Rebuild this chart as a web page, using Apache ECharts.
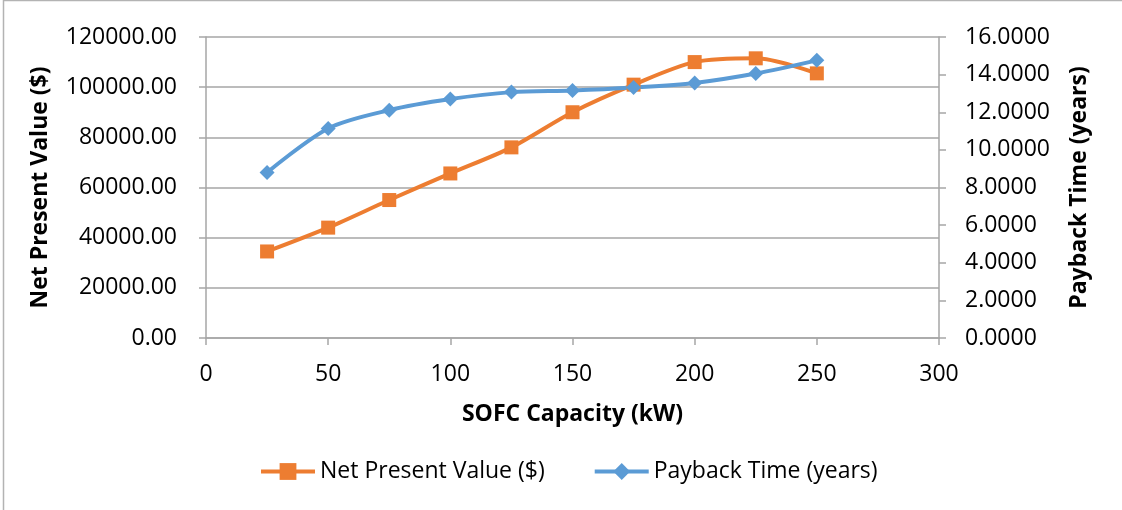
<!DOCTYPE html>
<html>
<head>
<meta charset="utf-8">
<script src="https://cdn.jsdelivr.net/npm/echarts@6/dist/echarts.min.js"></script>
<style>
  html, body { margin: 0; padding: 0; background: #fff; }
  #chart { width: 1122px; height: 510px; }
</style>
</head>
<body>
<div id="chart"></div>
<script>
// SOFC capacity (kW) and the two results per capacity
const capacity = [25, 50, 75, 100, 125, 150, 175, 200, 225, 250];
const netPresentValue = [34500, 44000, 55000, 65600, 76000, 90000, 101000, 110000, 111500, 105500];
const paybackTime = [8.80, 11.14, 12.11, 12.70, 13.07, 13.16, 13.32, 13.56, 14.06, 14.76];

const seriesNames = ['Net Present Value ($)', 'Payback Time (years)'];
const xTitle = 'SOFC Capacity (kW)';

const FONT = '"Open Sans", "Noto Sans", sans-serif';
const FS = 23;
const AXIS_GRAY = '#a6a6a6';
const ORANGE = '#ED7D31';
const BLUE = '#5B9BD5';

const chart = echarts.init(document.getElementById('chart'));

const npvData = capacity.map((c, i) => [c, netPresentValue[i]]);
const pbData = capacity.map((c, i) => [c, paybackTime[i]]);

const titleStyle = { fontFamily: FONT, fontSize: FS, fontWeight: 'bold', color: '#000' };
const axisLineStyle = { show: true, lineStyle: { color: AXIS_GRAY, width: 1.5 } };
const tickStyle = { show: true, length: 7, lineStyle: { color: AXIS_GRAY, width: 1.5 } };

chart.setOption({
  animation: false,
  textStyle: { fontFamily: FONT },
  graphic: [{
    type: 'rect',
    shape: { x: 3.5, y: 0.5, width: 1400, height: 800 },
    style: { fill: 'none', stroke: '#b3b3b3', lineWidth: 1.5 },
    silent: true
  }],
  grid: { left: 206, right: 183, top: 37, bottom: 172, containLabel: false },
  legend: {
    data: seriesNames,
    left: 259,
    top: 460,
    padding: 0,
    itemWidth: 54,
    itemHeight: 21,
    itemGap: 48,
    lineStyle: { width: 4 },
    textStyle: { fontFamily: FONT, fontSize: FS, color: '#000' }
  },
  xAxis: {
    type: 'value',
    min: 0, max: 300, interval: 50,
    name: xTitle,
    nameLocation: 'middle',
    nameGap: 65,
    nameTextStyle: titleStyle,
    axisLine: axisLineStyle,
    axisTick: tickStyle,
    axisLabel: { margin: 25, fontFamily: FONT, fontSize: FS, color: '#000' },
    splitLine: { show: false }
  },
  yAxis: [{
    type: 'value',
    min: 0, max: 120000, interval: 20000,
    name: seriesNames[0],
    nameLocation: 'middle',
    nameGap: 154,
    nameRotate: 90,
    nameTextStyle: titleStyle,
    axisLine: axisLineStyle,
    axisTick: tickStyle,
    axisLabel: { margin: 29, fontFamily: FONT, fontSize: FS, color: '#000',
                 formatter: v => v.toFixed(2) },
    splitLine: { show: true, lineStyle: { color: AXIS_GRAY, width: 1.5 } }
  }, {
    type: 'value',
    position: 'right',
    min: 0, max: 16, interval: 2,
    name: seriesNames[1],
    nameLocation: 'middle',
    nameGap: 129,
    nameRotate: 90,
    nameTextStyle: titleStyle,
    axisLine: axisLineStyle,
    axisTick: tickStyle,
    axisLabel: { margin: 26, fontFamily: FONT, fontSize: FS, color: '#000',
                 formatter: v => v.toFixed(4) },
    splitLine: { show: false }
  }],
  series: [{
    name: seriesNames[0],
    type: 'line',
    yAxisIndex: 0,
    data: npvData,
    smooth: 0.3,
    symbol: 'rect',
    symbolSize: 14,
    itemStyle: { color: ORANGE },
    lineStyle: { color: ORANGE, width: 4 }
  }, {
    name: seriesNames[1],
    type: 'line',
    yAxisIndex: 1,
    data: pbData,
    smooth: 0.3,
    symbol: 'diamond',
    symbolSize: 15,
    itemStyle: { color: BLUE },
    lineStyle: { color: BLUE, width: 4 }
  }]
});
</script>
</body>
</html>
